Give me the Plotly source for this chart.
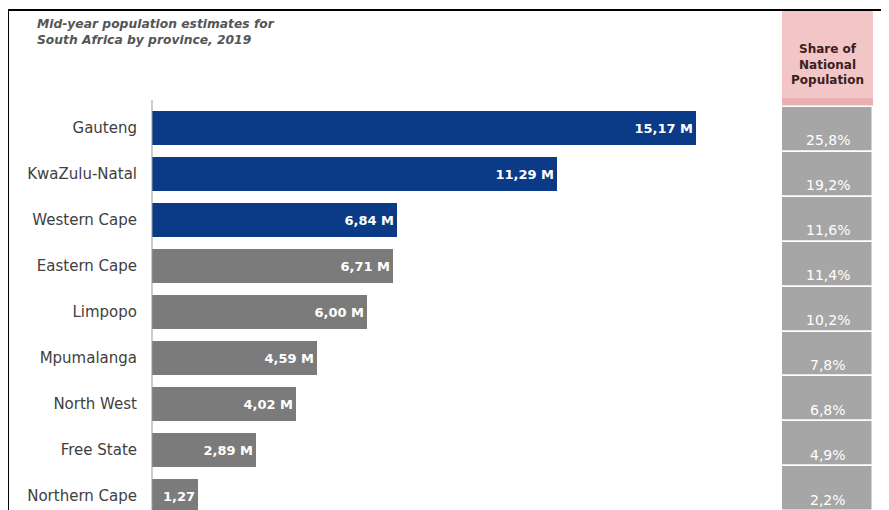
import plotly.graph_objects as go

# ---- data ----
provinces = ["Gauteng", "KwaZulu-Natal", "Western Cape", "Eastern Cape", "Limpopo",
             "Mpumalanga", "North West", "Free State", "Northern Cape"]
population_m = [15.17, 11.29, 6.84, 6.71, 6.00, 4.59, 4.02, 2.89, 1.27]
value_labels = ["15,17 M", "11,29 M", "6,84 M", "6,71 M", "6,00 M",
                "4,59 M", "4,02 M", "2,89 M", "1,27"]
share_labels = ["25,8%", "19,2%", "11,6%", "11,4%", "10,2%", "7,8%", "6,8%", "4,9%", "2,2%"]
highlight_count = 3

title_text = "Mid-year population estimates for<br>South Africa by province, 2019"
share_header = "Share of<br>National<br>Population"

NAVY = "#0b3b86"
GREY = "#7b7b7b"
CELL = "#a6a6a6"
PINK = "#f2c6c6"

bar_colors = [NAVY if i < highlight_count else GREY for i in range(len(provinces))]

# page body has an 8px margin; work in window pixels and convert
OFF = 8
W, H = 889 - OFF, 510 - OFF
ML, MR, MT, MB = 152 - OFF, 0, 105 - OFF, 0
PW, PH = W - ML - MR, H - MT - MB

def px_x(p):
    return (p - OFF - ML) / PW

def px_y(p):
    return (H - MB - (p - OFF)) / PH

fig = go.Figure()

fig.add_trace(go.Bar(
    y=provinces, x=population_m, orientation="h",
    marker=dict(color=bar_colors, line=dict(width=0)),
    width=0.74,
    text=value_labels, textposition="inside", insidetextanchor="end",
    textangle=0, constraintext="none",
    insidetextfont=dict(family="DejaVu Sans", size=13, color="white", weight="bold"),
    hoverinfo="skip", xaxis="x", yaxis="y", showlegend=False,
))

fig.add_trace(go.Bar(
    y=provinces, x=[1] * len(provinces), orientation="h",
    marker=dict(color=CELL, line=dict(color="white", width=1.5)),
    width=1.0, hoverinfo="skip", xaxis="x2", yaxis="y2", showlegend=False,
))

annotations = []
for prov, lab in zip(provinces, share_labels):
    annotations.append(dict(
        xref="x2", yref="y2", x=0.5, y=prov, text=lab, showarrow=False,
        yshift=-11, font=dict(family="DejaVu Sans", size=14, color="white"),
    ))

annotations.append(dict(
    xref="x2", yref="paper", x=0.5, y=px_y(64), yanchor="middle", text=share_header,
    showarrow=False, align="center",
    font=dict(family="DejaVu Sans", size=12, color="#3a2020", weight="bold"),
))
annotations.append(dict(
    xref="paper", yref="paper", x=px_x(35), y=px_y(15), xanchor="left", yanchor="top",
    text=title_text, showarrow=False, align="left",
    font=dict(family="DejaVu Sans", size=12.3, color="#555555", weight="bold", style="italic"),
))

shapes = [
    dict(type="rect", xref="x2", yref="paper", x0=0, x1=1, y0=px_y(106), y1=px_y(11),
         fillcolor=PINK, line=dict(width=0), layer="below"),
    dict(type="rect", xref="x2", yref="paper", x0=0, x1=1, y0=px_y(106), y1=px_y(98),
         fillcolor="#eab0b0", line=dict(width=0), layer="below"),
    dict(type="line", xref="paper", yref="paper", x0=px_x(8), x1=1.0, y0=px_y(10), y1=px_y(10),
         line=dict(color="black", width=2)),
    dict(type="line", xref="paper", yref="paper", x0=px_x(8), x1=px_x(8), y0=px_y(10), y1=-0.05,
         line=dict(color="black", width=2)),
    dict(type="line", xref="paper", yref="paper", x0=0, x1=0, y0=px_y(100), y1=0,
         line=dict(color="#9a9a9a", width=1)),
]

u2 = 44.9
y2_top = -0.5 - 2 / u2
y2_bot = y2_top + PH / u2
u1 = 46.0
y1_top = -0.5
y1_bot = y1_top + PH / u1

fig.update_layout(
    width=W, height=H,
    margin=dict(l=ML, r=MR, t=MT, b=MB, pad=0),
    paper_bgcolor="white", plot_bgcolor="white",
    bargap=0,
    xaxis=dict(domain=[0, 573.8 / PW], range=[0, 16], visible=False, fixedrange=True),
    yaxis=dict(type="category", categoryorder="array", categoryarray=provinces,
               range=[y1_bot, y1_top], showline=False, showgrid=False, zeroline=False,
               ticks="", ticklabelstandoff=14,
               tickfont=dict(family="DejaVu Sans", size=15, color="#404040")),
    xaxis2=dict(domain=[px_x(782), px_x(873)], range=[0, 1], visible=False, anchor="y2"),
    yaxis2=dict(type="category", categoryorder="array", categoryarray=provinces,
                range=[y2_bot, y2_top], visible=False, anchor="x2", domain=[0, 1]),
    annotations=annotations,
    shapes=shapes,
)

fig.write_html("out.html")
